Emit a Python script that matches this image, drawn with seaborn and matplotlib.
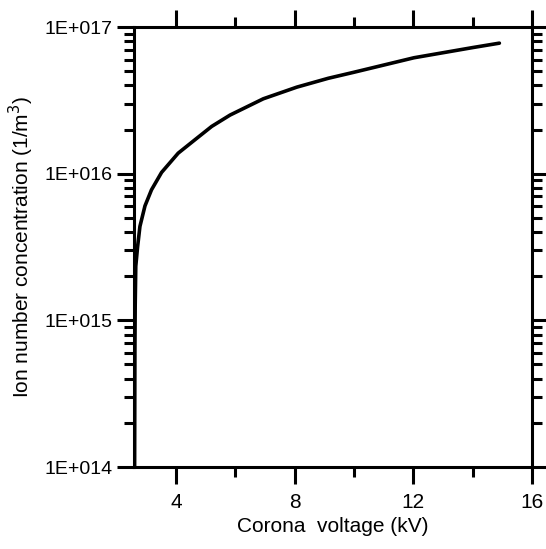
import numpy as np
import pandas as pd
import matplotlib
matplotlib.use("Agg")
import matplotlib.pyplot as plt
import matplotlib.ticker as mticker
import seaborn as sns

# values
voltage_kv = [2.60, 2.605, 2.61, 2.62, 2.64, 2.70, 2.78, 2.95, 3.17, 3.51,
              4.07, 4.63, 5.20, 5.82, 6.94, 8.07, 9.13, 9.97, 12.02, 14.0,
              14.9]
ion_conc = [1e14, 2.5e14, 6.3e14, 1.26e15, 2.34e15, 3.16e15, 4.37e15,
            6.03e15, 7.76e15, 1.02e16, 1.38e16, 1.70e16, 2.10e16, 2.51e16,
            3.24e16, 3.89e16, 4.47e16, 4.90e16, 6.17e16, 7.24e16, 7.76e16]

x_major = [4, 8, 12, 16]
x_minor = [6, 10, 14]
y_major = [1e14, 1e15, 1e16, 1e17]

sns.set_style("ticks")
plt.rcParams["font.family"] = ["Liberation Sans", "DejaVu Sans"]

df = pd.DataFrame({"voltage": voltage_kv, "conc": ion_conc})

fig = plt.figure(figsize=(5.46, 5.49), dpi=100)
ax = fig.add_axes([134 / 546, 1 - 467 / 549, 398 / 546, 440 / 549])

sns.lineplot(data=df, x="voltage", y="conc", color="black", linewidth=2.6,
             sort=False, ax=ax)

ax.set_yscale("log")
ax.set_xlim(2.58, 16)
ax.set_ylim(1e14, 1e17)

ax.xaxis.set_major_locator(mticker.FixedLocator(x_major))
ax.xaxis.set_minor_locator(mticker.FixedLocator(x_minor))
ax.yaxis.set_major_locator(mticker.FixedLocator(y_major))
ax.yaxis.set_minor_locator(mticker.LogLocator(base=10, subs=np.arange(2, 10)))
ax.yaxis.set_major_formatter(
    mticker.FuncFormatter(lambda v, p: "1E+%03d" % int(round(np.log10(v)))))
ax.yaxis.set_minor_formatter(mticker.NullFormatter())

for side in ["left", "right", "top", "bottom"]:
    ax.spines[side].set_visible(True)
    ax.spines[side].set_linewidth(2.2)
    ax.spines[side].set_color("black")

ax.tick_params(which="both", direction="out", top=True, right=True,
               width=2.2, color="black", labelcolor="black")
ax.tick_params(which="major", length=12.5)
ax.tick_params(which="minor", length=7)
ax.tick_params(axis="x", which="major", labelsize=15, pad=6)
ax.tick_params(axis="y", which="major", labelsize=14, pad=3)

ax.set_xlabel("Corona  voltage (kV)", fontsize=15, labelpad=4, color="black")
ax.set_ylabel("Ion number concentration (1/m$^3$)", fontsize=15, labelpad=6,
              color="black")

fig.savefig("out.png", dpi=100)
